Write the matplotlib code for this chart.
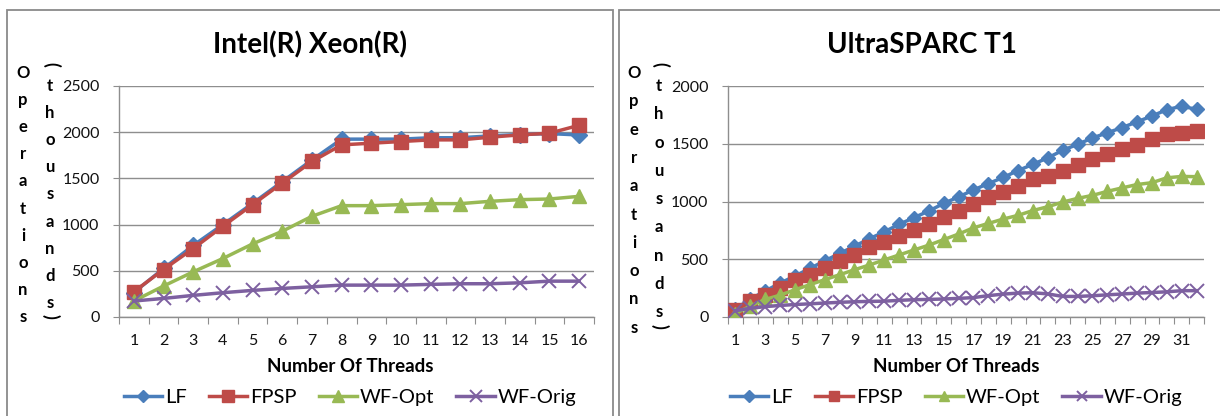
import numpy as np
import matplotlib.pyplot as plt
from matplotlib.patches import Rectangle

# --------------------------------------------------
# Data (operations in thousands)
# --------------------------------------------------
series_names = ['LF', 'FPSP', 'WF-Opt', 'WF-Orig']

intel_threads = list(range(1, 17))
intel_lf = [265, 525, 775, 1000, 1230, 1465, 1700, 1925, 1925, 1925, 1940, 1940, 1960, 1975, 1985, 1970]
intel_fpsp = [273, 514, 741, 982, 1216, 1450, 1683, 1863, 1881, 1899, 1917, 1917, 1946, 1971, 1989, 2075]
intel_wfopt = [173, 335, 489, 633, 791, 928, 1090, 1205, 1205, 1216, 1227, 1227, 1252, 1270, 1277, 1306]
intel_wforig = [173, 201, 234, 263, 288, 309, 327, 345, 345, 345, 353, 360, 360, 370, 388, 388]

sparc_threads = list(range(1, 33))
sparc_lf = [70, 155, 225, 293, 355, 420, 486, 550, 613, 677, 737, 802, 860, 918, 983, 1040,
            1100, 1155, 1208, 1268, 1322, 1378, 1443, 1495, 1550, 1595, 1640, 1690, 1740, 1795, 1825, 1798]
sparc_fpsp = [63, 135, 193, 251, 317, 366, 424, 481, 539, 602, 648, 703, 749, 807, 865, 914,
              980, 1037, 1086, 1135, 1193, 1222, 1268, 1317, 1369, 1412, 1455, 1490, 1539, 1585, 1590, 1614]
sparc_wfopt = [30, 95, 152, 189, 236, 280, 323, 366, 409, 450, 494, 537, 580, 622, 670, 718,
               772, 810, 848, 880, 922, 955, 995, 1027, 1053, 1088, 1118, 1147, 1163, 1205, 1217, 1215]
sparc_wforig = [55, 75, 90, 100, 108, 114, 121, 127, 132, 135, 137, 144, 150, 152, 156, 161,
                168, 185, 198, 207, 210, 200, 178, 178, 184, 192, 199, 207, 212, 218, 228, 228]

colores = ['#4A7EBB', '#BE4B48', '#98B954', '#7D60A0']
marcadores = ['D', 's', '^', 'x']

plt.rcParams['font.family'] = ['Lato', 'DejaVu Sans']

W, H = 1220, 416
fig = plt.figure(figsize=(W / 100, H / 100), dpi=100)


def fx(px):
    return px / W


def fy(py):
    return 1 - py / H


def dibujar_panel(left, right, threads, datos, ymax, titulo, cx_titulo, cx_xlabel,
                  ms, label_step, ylab):
    ax = fig.add_axes([fx(left), fy(317), fx(right - left), fy(86) - fy(317)])
    x = np.array(threads)
    for serie, color, mk, nombre in zip(datos, colores, marcadores, series_names):
        if mk == 'x':
            ax.plot(x, serie, color=color, lw=2.5, marker=mk, ms=ms, mew=1.4,
                    label=nombre, zorder=3)
        else:
            ax.plot(x, serie, color=color, lw=2.5, marker=mk,
                    ms=ms * (0.75 if mk == 'D' else 1.0),
                    mec=color, mfc=color, label=nombre, zorder=3)
    n = len(threads)
    ax.set_xlim(0.5, n + 0.5)
    ax.set_ylim(0, ymax)
    ax.set_yticks(np.arange(0, ymax + 1, 500))
    ax.yaxis.grid(True, color='#8E8E8E', lw=1.0)
    ax.set_axisbelow(True)
    for s in ['top', 'right']:
        ax.spines[s].set_visible(False)
    for s in ['left', 'bottom']:
        ax.spines[s].set_color('#8E8E8E')
        ax.spines[s].set_linewidth(1.0)
    ax.tick_params(axis='y', length=4, color='#8E8E8E', labelsize=11.5, pad=10,
                   labelcolor='#111111')
    # category axis: marks between categories, labels at centres
    ax.set_xticks(np.arange(0.5, n + 1.0, 1))
    ax.set_xticklabels([])
    ax.tick_params(axis='x', which='major', length=5, color='#8E8E8E')
    etiq = [t for t in threads if (t - 1) % label_step == 0]
    ax.set_xticks(etiq, minor=True)
    ax.set_xticklabels([str(t) for t in etiq], minor=True)
    ax.tick_params(axis='x', which='minor', length=0, labelsize=11.5, pad=12,
                   labelcolor='#111111')

    fig.text(fx(cx_titulo), fy(45), titulo, ha='center', va='center',
             fontsize=20, fontweight='bold', color='#000000')
    fig.text(fx(cx_xlabel), fy(366), 'Number Of Threads', ha='center', va='center',
             fontsize=13.5, fontweight='bold', color='#000000')

    # stacked y-axis title
    col1_x, col2_x, y0, paso = ylab
    for i, ch in enumerate('Operations'):
        fig.text(fx(col1_x), fy(y0 + i * paso), ch, ha='center', va='center',
                 fontsize=12, fontweight='bold')
    fig.text(fx(col2_x + 1), fy(y0 - 9), '(', ha='center', va='center', rotation=-90,
             fontsize=13, fontweight='bold')
    for i, ch in enumerate('thousands'):
        fig.text(fx(col2_x), fy(y0 + 13 + i * paso), ch, ha='center', va='center',
                 fontsize=12, fontweight='bold')
    fig.text(fx(col2_x + 1), fy(y0 + 13 + 8 * paso + 14), ')', ha='center', va='center',
             rotation=-90, fontsize=13, fontweight='bold')

    ax.legend(loc='center', bbox_to_anchor=(fx(cx_xlabel), fy(397)),
              bbox_transform=fig.transFigure, ncol=4, frameon=False,
              fontsize=14.5, handlelength=1.9, handletextpad=0.15,
              columnspacing=1.1, markerscale=0.8)
    return ax


dibujar_panel(119, 594, intel_threads,
              [intel_lf, intel_fpsp, intel_wfopt, intel_wforig], 2500,
              'Intel(R) Xeon(R)', 310, 350, 10.5, 1, (23, 50, 73, 27.1))
dibujar_panel(728, 1204, sparc_threads,
              [sparc_lf, sparc_fpsp, sparc_wfopt, sparc_wforig], 2000,
              'UltraSPARC T1', 922, 956, 9.5, 2, (634, 659, 73, 28.3))

# panel frames
fig.add_artist(Rectangle((fx(7), fy(430)), fx(613 - 7), fy(10) - fy(430),
                         transform=fig.transFigure, fill=False,
                         edgecolor='#8A8A8A', lw=1.3))
fig.add_artist(Rectangle((fx(619), fy(430)), fx(1240 - 619), fy(10) - fy(430),
                         transform=fig.transFigure, fill=False,
                         edgecolor='#8A8A8A', lw=1.3))

plt.savefig('out.png', dpi=100)
plt.close()
